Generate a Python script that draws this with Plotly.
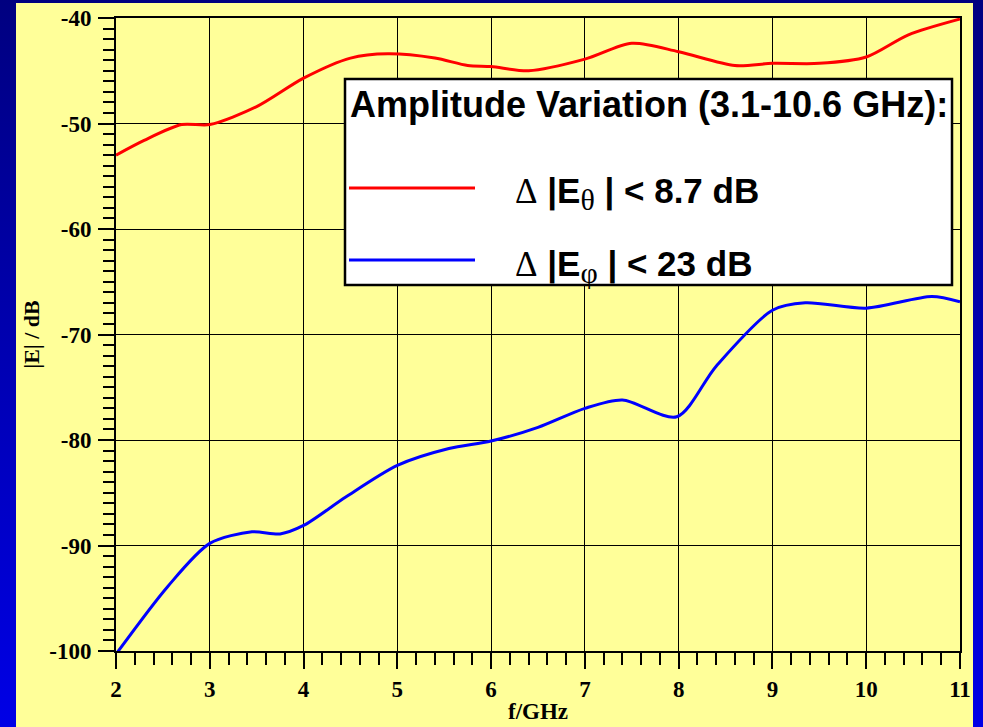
import base64
import plotly.graph_objects as go

# ---- data ----
freq_theta = [2.0, 2.3, 2.7, 3.0, 3.5, 4.0, 4.5, 4.9, 5.4, 5.75, 6.0, 6.4, 7.0, 7.5, 8.0, 8.6, 9.0, 9.5, 10.0, 10.45, 11.0]
e_theta = [-53.0, -51.6, -50.1, -50.1, -48.4, -45.7, -43.8, -43.4, -43.8, -44.5, -44.6, -45.0, -43.9, -42.4, -43.2, -44.5, -44.3, -44.3, -43.7, -41.6, -40.1]

freq_phi = [2.0, 2.55, 3.0, 3.45, 3.75, 4.0, 4.45, 5.0, 5.55, 6.0, 6.5, 7.0, 7.4, 7.98, 8.4, 9.0, 9.35, 10.0, 10.7, 11.0]
e_phi = [-100.3, -93.9, -89.8, -88.7, -88.9, -88.1, -85.4, -82.4, -80.8, -80.1, -78.8, -77.0, -76.2, -77.8, -73.0, -67.7, -67.0, -67.5, -66.4, -66.9]

x_ticks = [2, 3, 4, 5, 6, 7, 8, 9, 10, 11]
y_ticks = [-100, -90, -80, -70, -60, -50, -40]

legend_title = "Amplitude Variation (3.1-10.6 GHz):"
legend_theta = "8.7 dB"
legend_phi = "23 dB"

# ---- layout geometry (pixels) ----
W, H = 983, 727
ML, MR, MT, MB = 116, 23, 18, 76
PW, PH = W - ML - MR, H - MT - MB


def px(x):
    return (x - ML) / PW


def py(y):
    return (H - MB - y) / PH


svg = (
    f'<svg xmlns="http://www.w3.org/2000/svg" width="{W}" height="{H}" viewBox="0 0 {W} {H}" preserveAspectRatio="none">'
    '<defs><linearGradient id="g" x1="0" y1="0" x2="0" y2="1">'
    '<stop offset="0" stop-color="#000080"/><stop offset="1" stop-color="#0000E6"/>'
    '</linearGradient></defs>'
    f'<rect width="{W}" height="{H}" fill="url(#g)"/>'
    '<rect x="16" y="3" width="957" height="724" fill="#FFFF99"/>'
    '</svg>'
)
bg_src = "data:image/svg+xml;base64," + base64.b64encode(svg.encode()).decode()

fig = go.Figure()
fig.add_trace(go.Scatter(x=freq_theta, y=e_theta, mode="lines",
                         line=dict(color="#FF0000", width=3, shape="spline", smoothing=0.8),
                         cliponaxis=False, showlegend=False))
fig.add_trace(go.Scatter(x=freq_phi, y=e_phi, mode="lines",
                         line=dict(color="#0000FF", width=3, shape="spline", smoothing=0.8),
                         cliponaxis=False, showlegend=False))

tickfont = dict(family="Liberation Serif", size=23, color="black", weight="bold")
axis_common = dict(
    showline=True, linewidth=2, linecolor="black", mirror=True,
    showgrid=True, gridcolor="black", gridwidth=1,
    ticks="outside", ticklen=16, tickwidth=2, tickcolor="black",
    tickfont=tickfont, zeroline=False,
)

fig.update_xaxes(
    range=[2, 11], tickmode="array", tickvals=x_ticks, ticktext=[str(v) for v in x_ticks],
    minor=dict(dtick=0.2, tick0=2, ticks="outside", ticklen=12, tickwidth=2, tickcolor="black", showgrid=False),
    title=dict(text="f/GHz", font=dict(family="Liberation Serif", size=23, color="black", weight="bold"), standoff=2),
    ticklabelstandoff=0,
    **axis_common,
)
fig.update_yaxes(
    range=[-100, -40], tickmode="array", tickvals=y_ticks, ticktext=[str(v) for v in y_ticks],
    minor=dict(dtick=1, tick0=-100, ticks="outside", ticklen=11, tickwidth=2, tickcolor="black", showgrid=False),
    title=dict(text="|E| / dB", font=dict(family="Liberation Serif", size=22, color="black", weight="bold"), standoff=4),
    ticklabelstandoff=2,
    **axis_common,
)

shapes = [
    dict(type="rect", xref="paper", yref="paper", x0=px(345), x1=px(952), y0=py(285), y1=py(79),
         fillcolor="white", line=dict(color="black", width=2.5), layer="above"),
    dict(type="line", xref="paper", yref="paper", x0=px(349), x1=px(475), y0=py(188), y1=py(188),
         line=dict(color="#FF0000", width=3), layer="above"),
    dict(type="line", xref="paper", yref="paper", x0=px(349), x1=px(475), y0=py(260), y1=py(260),
         line=dict(color="#0000FF", width=3), layer="above"),
]

serif = "font-family:Liberation Serif;font-weight:normal"
sub = "font-family:Liberation Serif;font-weight:normal;font-size:30px"
annotations = [
    dict(xref="paper", yref="paper", x=px(348), y=py(104), xanchor="left", yanchor="middle",
         text=f"<b>{legend_title}</b>", showarrow=False,
         font=dict(family="Liberation Sans", size=36, color="black")),
    dict(xref="paper", yref="paper", x=px(513), y=py(194), xanchor="left", yanchor="middle",
         text=f'<span style="{serif}">\u0394</span> <b>|E</b><sub><span style="{sub}">\u03b8</span></sub><b> | &lt; {legend_theta}</b>',
         showarrow=False, font=dict(family="Liberation Sans", size=35, color="black")),
    dict(xref="paper", yref="paper", x=px(513), y=py(266), xanchor="left", yanchor="middle",
         text=f'<span style="{serif}">\u0394</span> <b>|E</b><sub><span style="{sub}">\u03c6</span></sub><b> | &lt; {legend_phi}</b>',
         showarrow=False, font=dict(family="Liberation Sans", size=35, color="black")),
]

fig.update_layout(
    width=W, height=H,
    margin=dict(l=ML, r=MR, t=MT, b=MB, autoexpand=False),
    paper_bgcolor="#0000B0", plot_bgcolor="rgba(0,0,0,0)",
    images=[dict(source=bg_src, xref="paper", yref="paper", x=px(0), y=py(0),
                 sizex=W / PW, sizey=H / PH, xanchor="left", yanchor="top",
                 sizing="stretch", layer="below")],
    shapes=shapes, annotations=annotations, showlegend=False,
)

fig.write_html("out.html")
